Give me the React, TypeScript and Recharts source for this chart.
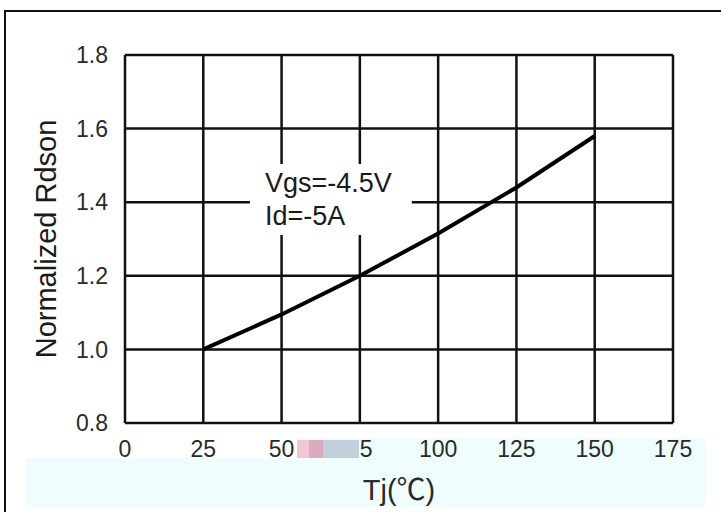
import { CartesianGrid, Line, LineChart, ReferenceArea, XAxis, YAxis } from 'recharts';

const tj = [25, 50, 75, 100, 125, 150];
const rdson = [1.0, 1.095, 1.2, 1.315, 1.44, 1.58];
const xTicks = [0, 25, 50, 75, 100, 125, 150, 175];
const yTicks = [0.8, 1.0, 1.2, 1.4, 1.6, 1.8];
const noteLines = ['Vgs=-4.5V', 'Id=-5A'];

const FONT = 'Arial, "Liberation Sans", "Noto Sans CJK SC", sans-serif';

const data = tj.map((t, i) => ({ tj: t, rdson: rdson[i] }));

function NoteLabel(props: any) {
  const { x, y } = props.viewBox;
  return (
    <g>
      {noteLines.map((s, i) => (
        <text key={i} x={x + 15} y={y + 28 + i * 33} fontSize={27} fill="#1a1a1a" fontFamily={FONT}>
          {s}
        </text>
      ))}
    </g>
  );
}

export default function App() {
  return (
    <div style={{ position: 'absolute', left: 0, top: 0, width: 721, height: 512, background: '#fff', fontFamily: FONT }}>
      {/* outer frame */}
      <div style={{ position: 'absolute', left: 4, top: 10, right: -4, bottom: -4, borderTop: '2px solid #111', borderLeft: '2px solid #111' }} />
      {/* light blue band under the axis */}
      <div style={{ position: 'absolute', left: 26, top: 458, width: 680, height: 49, background: '#effdff' }} />
      <div style={{ position: 'absolute', left: 297, top: 438, width: 409, height: 20, background: '#effdff' }} />

      <div style={{ position: 'absolute', left: 0, top: 0 }}>
        <LineChart width={721} height={512} data={data} margin={{ top: 55, right: 48, left: 0, bottom: 0 }}>
          <CartesianGrid stroke="#111" strokeWidth={2.5} />
          <XAxis
            dataKey="tj"
            type="number"
            domain={[0, 175]}
            ticks={xTicks}
            axisLine={false}
            tickLine={false}
            tickSize={0}
            tickMargin={18}
            height={89}
            tick={{ fontSize: 23, fill: '#2a2a2a', fontFamily: FONT }}
            label={{ value: 'Tj(℃)', position: 'insideBottom', offset: 12, fontSize: 29, fill: '#2a2a2a', fontFamily: FONT }}
          />
          <YAxis
            type="number"
            domain={[0.8, 1.8]}
            ticks={yTicks}
            axisLine={false}
            tickLine={false}
            tickSize={0}
            tickMargin={17}
            width={125}
            tickFormatter={(v: number) => v.toFixed(1)}
            tick={{ fontSize: 23, fill: '#2a2a2a', fontFamily: FONT }}
            label={{ value: 'Normalized  Rdson', angle: -90, position: 'insideLeft', offset: 46, fontSize: 29, fill: '#1a1a1a', fontFamily: FONT, style: { textAnchor: 'middle' } }}
          />
          <ReferenceArea x1={39.9} x2={91.6} y1={1.311} y2={1.504} fill="#fff" fillOpacity={1} stroke="none" label={<NoteLabel />} />
          <Line dataKey="rdson" stroke="#000" strokeWidth={4} dot={false} isAnimationActive={false} />
        </LineChart>
      </div>

      {/* pasted watermark patch over the 75 tick */}
      <div style={{ position: 'absolute', left: 297, top: 440, width: 12, height: 18, background: '#f2c6d2' }} />
      <div style={{ position: 'absolute', left: 309, top: 440, width: 14, height: 18, background: '#dca9bd' }} />
      <div style={{ position: 'absolute', left: 323, top: 440, width: 36, height: 18, background: '#c2d0dc' }} />
    </div>
  );
}
